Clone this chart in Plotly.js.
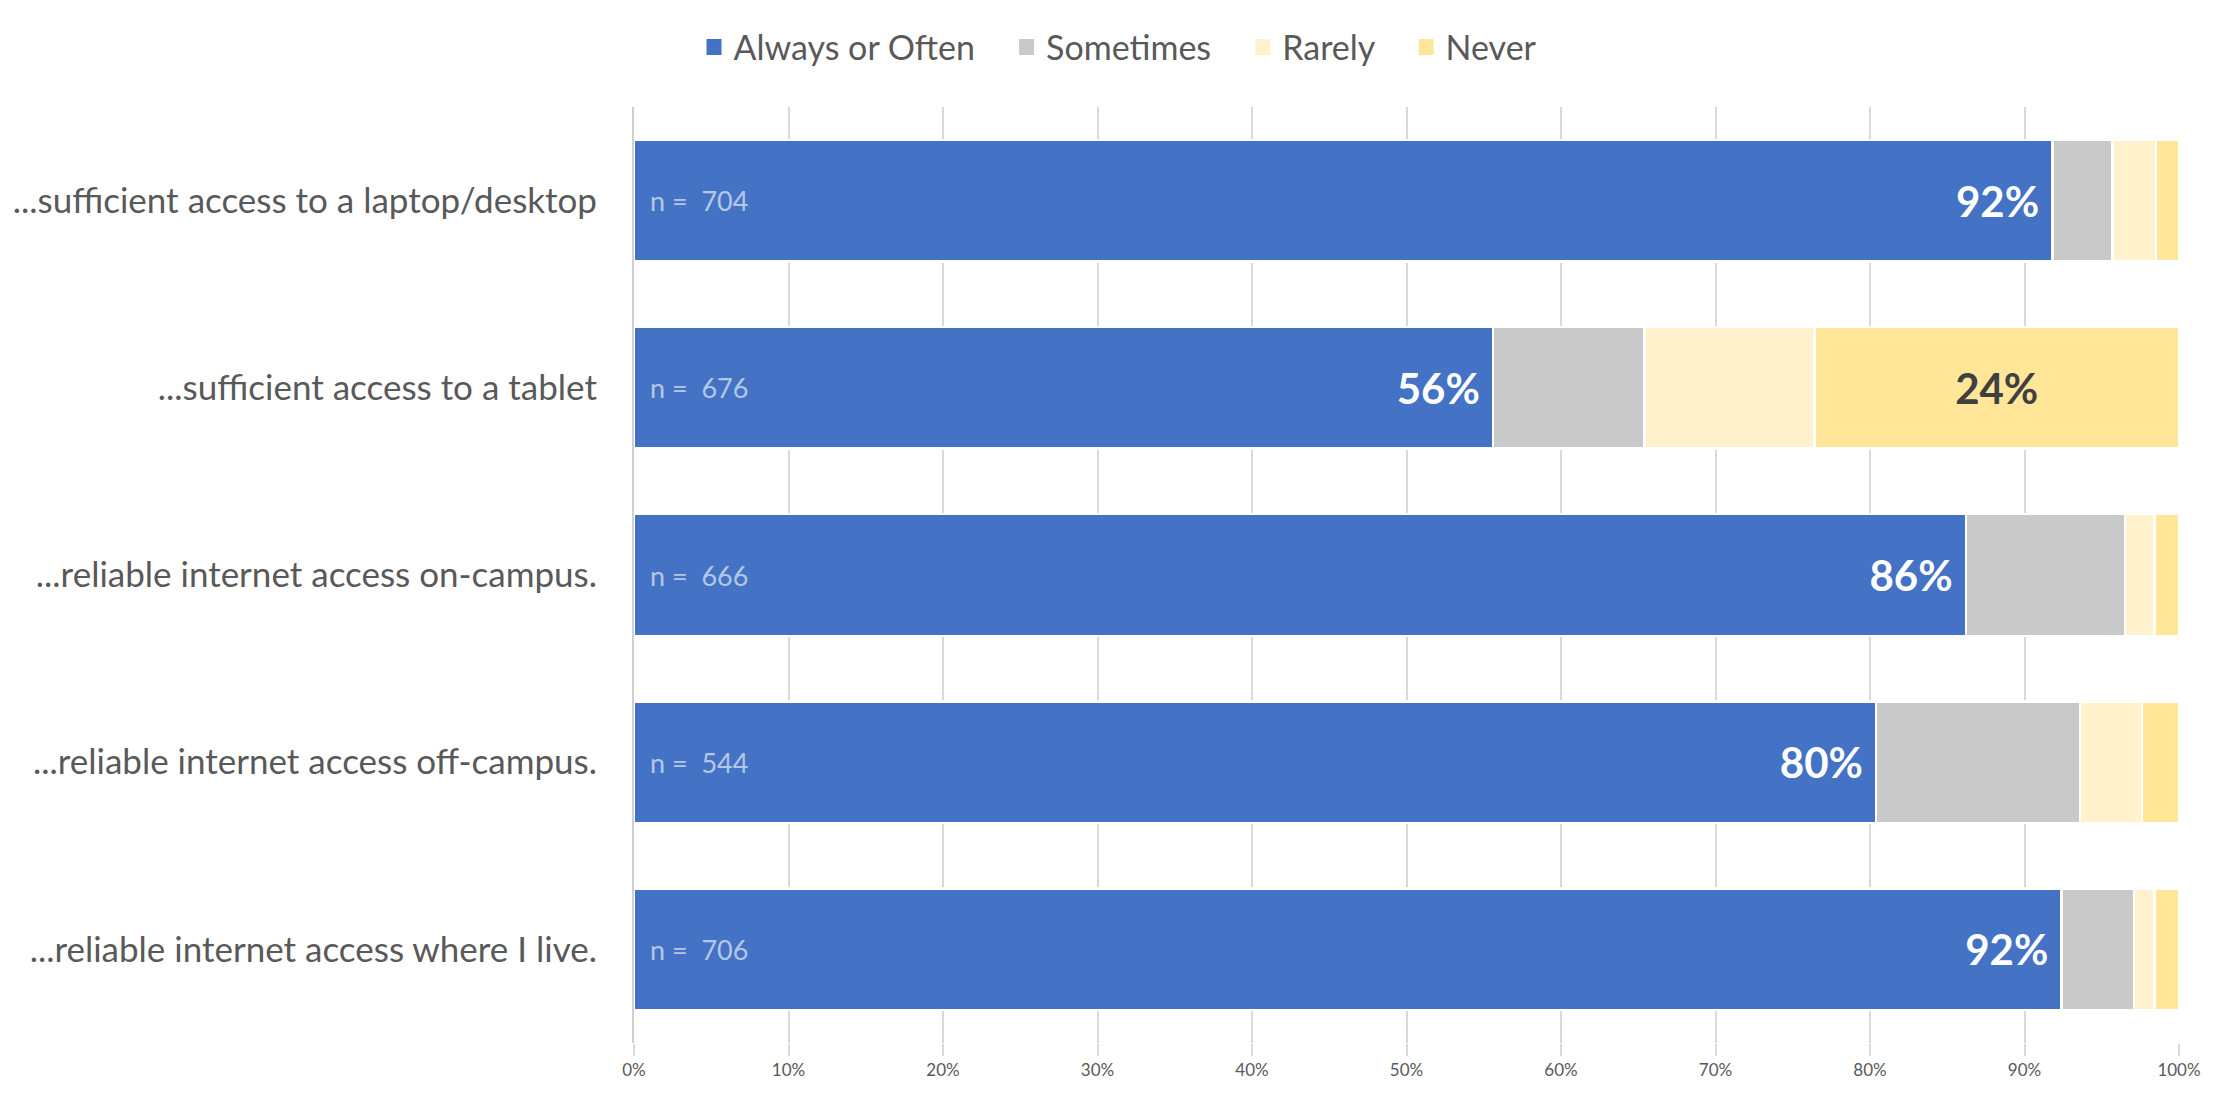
<!DOCTYPE html>
<html>
<head>
<meta charset="utf-8">
<script src="https://cdn.plot.ly/plotly-3.0.1.min.js"></script>
<style>html,body{margin:0;padding:0;background:#fff;}#chart{width:2236px;height:1102px;}</style>
</head>
<body>
<div id="chart"></div>
<script>
const categories = [
  "...sufficient access to a laptop/desktop",
  "...sufficient access to a tablet",
  "...reliable internet access on-campus.",
  "...reliable internet access off-campus.",
  "...reliable internet access where I live."
];
const nCounts = [704, 676, 666, 544, 706];
const alwaysOften = [91.8, 55.6, 86.2, 80.4, 92.4];
const sometimes   = [3.9, 9.8, 10.3, 13.2, 4.7];
const rarely      = [2.8, 11.0, 1.9, 4.0, 1.3];
const never       = [1.5, 23.6, 1.6, 2.4, 1.6];
const seriesNames = ["Always or Often", "Sometimes", "Rarely", "Never"];
const xTicks = [0,10,20,30,40,50,60,70,80,90,100];

const FONT = "Lato, 'Open Sans', sans-serif";
const colors = ["#4472C4", "#C9C9C9", "#FFF2CC", "#FFE699"];
const series = [alwaysOften, sometimes, rarely, never];
const NB = "\u00A0";

const traces = series.map((vals, i) => {
  let text, tfont;
  if (i === 0) {
    text = vals.map(v => Math.round(v) + "%" + NB);
    tfont = {family: FONT, size: 42, color: "#FFFFFF", weight: 700};
  } else if (i === 3) {
    text = vals.map(v => v >= 10 ? Math.round(v) + "%" : "");
    tfont = {family: FONT, size: 42, color: "#404040", weight: 700};
  } else {
    text = vals.map(() => "");
    tfont = {family: FONT, size: 42, color: "#404040"};
  }
  return {
    type: "bar",
    orientation: "h",
    name: seriesNames[i] + (i < 3 ? NB + NB + NB : ""),
    y: categories,
    x: vals,
    marker: {color: colors[i], line: {color: "#FFFFFF", width: 2.5}},
    text: text,
    textposition: "inside",
    insidetextanchor: i === 0 ? "end" : "middle",
    textfont: tfont,
    constraintext: "none",
    hoverinfo: "skip"
  };
});

const annotations = categories.map((c, i) => ({
  x: 0, y: c, xref: "x", yref: "y",
  text: "n =  " + nCounts[i],
  showarrow: false, xanchor: "left", xshift: 14,
  font: {family: FONT, size: 27, color: "#B4C7E7"}
}));

const layout = {
  width: 2236, height: 1102,
  margin: {l: 634, r: 57, t: 107, b: 59, pad: 0},
  paper_bgcolor: "#FFFFFF", plot_bgcolor: "#FFFFFF",
  barmode: "stack",
  bargap: 0.35,
  showlegend: true,
  legend: {
    orientation: "h", xref: "container", yref: "container",
    x: 0.5, xanchor: "center", y: 0.957, yanchor: "middle",
    font: {family: FONT, size: 34, color: "#595959"},
    traceorder: "normal", itemwidth: 30
  },
  xaxis: {
    range: [0, 100],
    tickvals: xTicks,
    ticktext: xTicks.map(t => t + "%"),
    showgrid: true, gridcolor: "#D9D9D9", gridwidth: 2,
    zeroline: false,
    ticks: "outside", ticklen: 12, tickcolor: "#D9D9D9", tickwidth: 2,
    tickfont: {family: FONT, size: 17, color: "#595959"},
    fixedrange: true
  },
  yaxis: {
    autorange: "reversed",
    type: "category",
    showgrid: false, zeroline: false,
    showline: true, linecolor: "#D0D0D0", linewidth: 2,
    ticks: "", ticklabelstandoff: 28,
    tickfont: {family: FONT, size: 35, color: "#595959"},
    fixedrange: true
  },
  annotations: annotations,
  uniformtext: {mode: false}
};

Plotly.newPlot("chart", traces, layout, {displayModeBar: false, staticPlot: true}).then(gd => {
  document.querySelectorAll(".legend .legendpoints path").forEach(p => {
    p.setAttribute("d", "M8,8H-7V-8H8Z");
    p.style.strokeWidth = "0px";
  });
});
</script>
</body>
</html>
